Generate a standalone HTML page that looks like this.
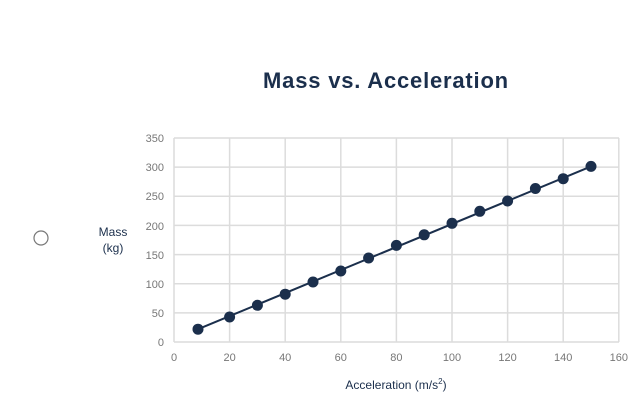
<!DOCTYPE html>
<html><head><style>
body{margin:0;background:#fff;width:632px;height:403px;overflow:hidden;font-family:"Liberation Sans",sans-serif}
</style></head><body>
<svg width="632" height="403" xmlns="http://www.w3.org/2000/svg" font-family="Liberation Sans, sans-serif">
<text x="386" y="88" text-anchor="middle" font-size="22" font-weight="bold" letter-spacing="0.8" fill="#1b2f4c">Mass vs. Acceleration</text>
<circle cx="41" cy="238" r="7" fill="none" stroke="#777" stroke-width="1.2"/>
<text x="113" y="236" text-anchor="middle" font-size="12" fill="#1b2f4c">Mass</text>
<text x="113" y="252" text-anchor="middle" font-size="12" fill="#1b2f4c">(kg)</text>
<g stroke="#dcdcdc" stroke-width="1.5">
<line x1="174" y1="138" x2="174" y2="342"/><line x1="229.6" y1="138" x2="229.6" y2="342"/><line x1="285.2" y1="138" x2="285.2" y2="342"/><line x1="340.8" y1="138" x2="340.8" y2="342"/><line x1="396.4" y1="138" x2="396.4" y2="342"/><line x1="452" y1="138" x2="452" y2="342"/><line x1="507.6" y1="138" x2="507.6" y2="342"/><line x1="563.2" y1="138" x2="563.2" y2="342"/><line x1="618.8" y1="138" x2="618.8" y2="342"/>
<line x1="174" y1="138" x2="619" y2="138"/><line x1="174" y1="196.3" x2="619" y2="196.3"/><line x1="174" y1="254.6" x2="619" y2="254.6"/><line x1="174" y1="312.9" x2="619" y2="312.9"/><line x1="174" y1="167.1" x2="619" y2="167.1"/><line x1="174" y1="225.4" x2="619" y2="225.4"/><line x1="174" y1="283.7" x2="619" y2="283.7"/><line x1="174" y1="342" x2="619" y2="342"/>
</g>
<g font-size="11" fill="#777" text-anchor="end">
<text x="164" y="346">0</text><text x="164" y="317">50</text><text x="164" y="288">100</text><text x="164" y="259">150</text><text x="164" y="230">200</text><text x="164" y="200">250</text><text x="164" y="171">300</text><text x="164" y="142">350</text>
</g>
<g font-size="11" fill="#777" text-anchor="middle">
<text x="174" y="361">0</text><text x="229.6" y="361">20</text><text x="285.2" y="361">40</text><text x="340.8" y="361">60</text><text x="396.4" y="361">80</text><text x="452" y="361">100</text><text x="507.6" y="361">120</text><text x="563.2" y="361">140</text><text x="618.8" y="361">160</text>
</g>
<text x="396" y="389" text-anchor="middle" font-size="12" fill="#1b2f4c">Acceleration (m/s<tspan font-size="8" dy="-5">2</tspan><tspan dy="5">)</tspan></text>
<line x1="198" y1="329.2" x2="591" y2="166.4" stroke="#1b2f4c" stroke-width="2"/>
<g fill="#1b2f4c">
<circle cx="198" cy="329.2" r="5.5"/><circle cx="229.6" cy="317" r="5.5"/><circle cx="257.4" cy="305.3" r="5.5"/><circle cx="285.2" cy="294.2" r="5.5"/><circle cx="313" cy="282" r="5.5"/><circle cx="340.8" cy="271" r="5.5"/><circle cx="368.6" cy="258" r="5.5"/><circle cx="396.4" cy="245.4" r="5.5"/><circle cx="424.2" cy="234.8" r="5.5"/><circle cx="452" cy="223.3" r="5.5"/><circle cx="479.8" cy="211.3" r="5.5"/><circle cx="507.6" cy="201" r="5.5"/><circle cx="535.4" cy="188.5" r="5.5"/><circle cx="563.2" cy="178.7" r="5.5"/><circle cx="591" cy="166.4" r="5.5"/>
</g>
</svg>
</body></html>
